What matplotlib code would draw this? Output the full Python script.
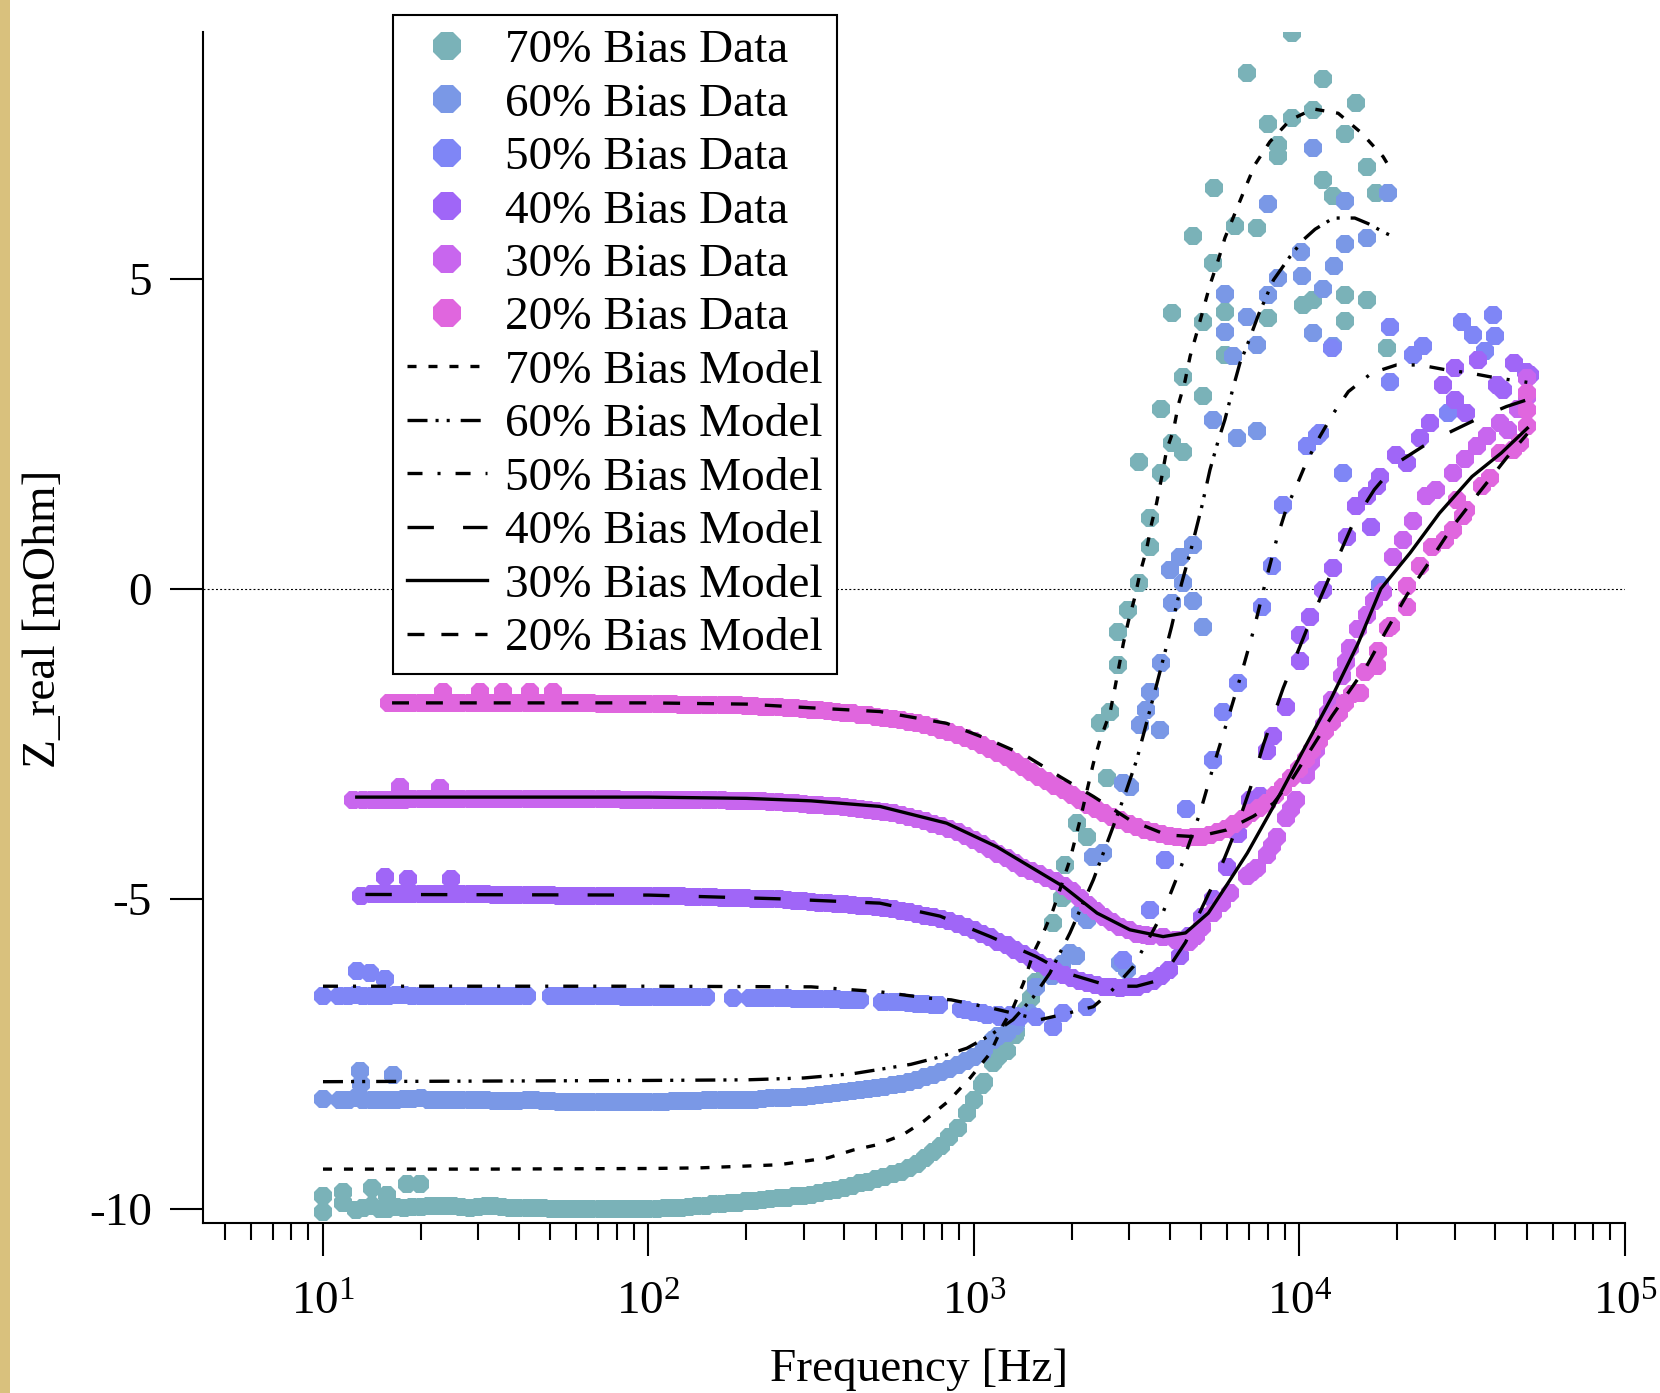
# Z_real vs frequency for six bias levels: measured data (dots) and model fits (black lines).
import matplotlib
matplotlib.use('Agg')
import matplotlib.pyplot as plt
from matplotlib.patches import Rectangle
from matplotlib.ticker import LogLocator, NullLocator, NullFormatter

# ---- measured data (frequency in Hz, Z_real in mOhm) ----
f70 = [10.0, 10.0, 11.5, 11.5, 12.6, 14.1, 14.1, 15.7, 15.7, 17.8, 18.1, 19.9, 20.0, 22.4, 25.1, 28.2, 31.6, 35.5,
       39.8, 44.7, 50.1, 56.2, 63.1, 70.8, 79.4, 89.1, 100, 112, 126, 141, 158, 178, 200, 224, 251, 282, 316, 355,
       398, 447, 501, 562, 631, 708, 794, 891, 955, 1000, 1072, 1148, 1259, 1349, 1445, 1549, 1652, 1750, 1862,
       1905, 2070, 2223, 2438, 2559, 2618, 2773, 2773, 2979, 3221, 3221, 3475, 3475, 3750, 3750, 4046, 4046, 4375,
       4375, 4699, 5058, 5058, 5433, 5470, 5902, 5902, 6339, 6887, 7379, 7980, 8017, 8610, 8610, 9462, 9462, 10280,
       11020, 11020, 11830, 11830, 12710, 13800, 13800, 13800, 14890, 16070, 16070, 17220, 18540]
z70 = [-9.80, -10.05, -9.73, -9.90, -10.02, -9.66, -9.95, -9.78, -10.00, -9.98, -9.60, -9.60, -9.97, -9.95, -9.96,
       -9.98, -9.96, -9.97, -9.99, -9.98, -10.00, -10.00, -10.01, -10.00, -10.00, -10.00, -10.00, -9.99, -9.98,
       -9.96, -9.93, -9.91, -9.88, -9.86, -9.83, -9.80, -9.78, -9.72, -9.66, -9.59, -9.52, -9.44, -9.35, -9.18,
       -8.98, -8.70, -8.45, -8.25, -7.95, -7.65, -7.45, -7.15, -6.80, -6.35, -6.15, -5.39, -4.98, -4.45, -3.77,
       -4.00, -2.16, -3.05, -1.98, -1.23, -0.69, -0.34, 0.09, 2.04, 0.68, 1.14, 1.87, 2.90, 2.35, 4.45, 2.21, 3.42,
       5.69, 3.11, 4.31, 5.26, 6.46, 3.77, 4.47, 5.85, 8.32, 5.82, 7.50, 4.37, 6.98, 7.16, 7.59, 8.96, 4.58, 4.66,
       7.73, 8.23, 6.60, 6.34, 4.32, 4.74, 7.33, 7.84, 4.66, 6.81, 6.38, 3.88]
# second set of readings along the dense band
f70b = [13.3, 15.0, 16.8, 18.8, 21.1, 23.7, 26.6, 29.9, 33.5, 37.6, 42.2, 47.3, 53.1, 59.6, 66.8, 75.0, 84.1, 94.4,
        106, 119, 133, 150, 168, 188, 211, 237, 266, 299, 335, 376, 422, 473, 531, 596, 668, 750, 841, 1059, 1189,
        1334, 1496]
z70b = [-9.98, -10.00, -9.97, -9.97, -9.96, -9.95, -9.97, -9.97, -9.96, -9.98, -9.99, -9.99, -10.00, -10.01, -10.01,
        -10.00, -10.00, -10.00, -10.00, -9.99, -9.97, -9.95, -9.92, -9.90, -9.87, -9.85, -9.82, -9.79, -9.75, -9.69,
        -9.63, -9.56, -9.48, -9.40, -9.27, -9.08, -8.85, -8.00, -7.55, -7.20, -6.60]

f60 = [10.0, 11.3, 12.6, 13.0, 13.1, 14.1, 15.8, 16.4, 17.8, 20.0, 22.4, 25.1, 28.2, 31.6, 35.5, 39.8, 44.7, 50.1,
       56.2, 63.1, 70.8, 79.4, 89.1, 100, 112, 126, 141, 158, 178, 200, 224, 251, 282, 316, 355, 398, 447, 501, 562,
       631, 708, 794, 891, 1000, 1072, 1148, 1259, 1349, 1479, 1549, 1738, 1862, 1972, 2065, 2118, 2218, 2323, 2495,
       2812, 2871, 2951, 3013, 3236, 3388, 3467, 3724, 3750, 3999, 4046, 4295, 4375, 4699, 4721, 5058, 5433, 5902,
       5902, 6266, 6412, 6887, 7379, 7379, 7980, 8017, 8610, 10140, 10190, 11020, 11020, 11830, 12710, 12790,
       13800, 13800, 16070, 18750]
z60 = [-8.23, -8.25, -8.22, -7.78, -7.99, -8.24, -8.25, -7.84, -8.23, -8.22, -8.24, -8.25, -8.24, -8.25, -8.26,
       -8.26, -8.25, -8.26, -8.27, -8.27, -8.27, -8.27, -8.27, -8.27, -8.27, -8.26, -8.26, -8.25, -8.25, -8.24,
       -8.23, -8.22, -8.20, -8.18, -8.15, -8.12, -8.08, -8.05, -8.00, -7.95, -7.88, -7.80, -7.68, -7.55, -7.42,
       -7.28, -7.16, -7.00, -6.84, -6.42, -6.25, -6.05, -5.87, -5.93, -5.23, -5.34, -4.32, -4.26, -6.03, -3.13,
       -6.15, -3.19, -2.19, -1.95, -1.66, -2.27, -1.19, 0.31, -0.23, 0.52, 0.09, -0.20, 0.71, -0.62, 2.73, 4.14,
       4.75, 3.75, 2.43, 4.38, 2.55, 3.94, 6.21, 4.74, 5.01, 5.43, 5.05, 4.12, 7.11, 4.83, 3.91, 5.21, 5.56, 6.26,
       5.66, 6.38]
f60b = [11.9, 13.3, 15.0, 16.8, 18.8, 21.1, 23.7, 26.6, 29.9, 33.5, 37.6, 42.2, 47.3, 53.1, 59.6, 66.8, 75.0, 84.1,
        94.4, 106, 119, 133, 150, 168, 188, 211, 237, 266, 299, 335, 376, 422, 473, 531, 596, 668, 750, 841, 944,
        1059, 1189, 1334]
z60b = [-8.24, -8.25, -8.24, -8.25, -8.23, -8.24, -8.25, -8.24, -8.25, -8.26, -8.26, -8.25, -8.26, -8.27, -8.27,
        -8.27, -8.27, -8.27, -8.27, -8.27, -8.26, -8.26, -8.25, -8.25, -8.24, -8.24, -8.22, -8.21, -8.19, -8.17,
        -8.14, -8.10, -8.06, -8.03, -7.98, -7.92, -7.84, -7.74, -7.62, -7.48, -7.22, -7.05]

f50 = [10.0, 11.2, 12.6, 12.7, 13.9, 14.1, 15.5, 15.8, 17.8, 20.0, 22.4, 25.1, 28.2, 31.6, 35.5, 39.8, 50.1, 56.2,
       63.1, 70.8, 79.4, 89.1, 100, 112, 126, 141, 182, 205, 224, 251, 282, 316, 355, 398, 447, 520, 562, 631, 708,
       780, 910, 1000, 1100, 1202, 1300, 1380, 1549, 1750, 1880, 2220, 2871, 3467, 3864, 4467, 5433, 5821, 6457,
       7691, 8260, 8913, 10520, 11300, 11560, 12590, 13580, 17660, 18970, 18970, 22390, 23990, 28640, 31480, 34200,
       37150, 39360, 39810]
z50 = [-6.56, -6.56, -6.55, -6.17, -6.20, -6.56, -6.29, -6.56, -6.55, -6.56, -6.56, -6.56, -6.56, -6.56, -6.56,
       -6.56, -6.56, -6.57, -6.57, -6.57, -6.57, -6.58, -6.58, -6.58, -6.58, -6.58, -6.60, -6.60, -6.60, -6.60,
       -6.61, -6.62, -6.62, -6.63, -6.64, -6.66, -6.67, -6.68, -6.70, -6.72, -6.78, -6.82, -6.87, -6.90, -6.88,
       -6.90, -6.90, -7.06, -6.85, -6.74, -5.98, -5.18, -4.37, -3.55, -2.76, -1.98, -1.52, -0.29, 0.36, 1.35, 2.30,
       2.46, 2.51, 3.89, 1.87, 0.06, 4.23, 3.34, 3.77, 3.91, 2.83, 4.31, 4.10, 3.83, 4.42, 4.07]
f50b = [11.9, 13.3, 15.0, 16.8, 18.8, 21.1, 23.7, 26.6, 29.9, 33.5, 37.6, 42.2, 53.1, 59.6, 66.8, 75.0, 84.1, 94.4,
        106, 119, 133, 150, 211, 237, 266, 299, 335, 376, 422, 531, 596, 668, 750, 944, 1059, 1189, 1334]
z50b = [-6.56, -6.56, -6.56, -6.55, -6.56, -6.56, -6.56, -6.56, -6.56, -6.56, -6.56, -6.56, -6.57, -6.57, -6.57,
        -6.57, -6.58, -6.58, -6.58, -6.58, -6.58, -6.59, -6.60, -6.60, -6.60, -6.61, -6.62, -6.62, -6.63, -6.66,
        -6.67, -6.69, -6.71, -6.80, -6.85, -6.88, -6.89]

f40 = [13.1, 14.1, 15.5, 15.8, 17.8, 18.3, 20.0, 22.4, 24.8, 25.1, 28.2, 31.6, 35.5, 39.8, 44.7, 50.1, 56.2, 63.1,
       70.8, 79.4, 89.1, 100, 112, 126, 141, 158, 178, 200, 224, 251, 282, 316, 355, 398, 447, 501, 562, 631, 708,
       794, 891, 1000, 1122, 1259, 1413, 1585, 1778, 1995, 2239, 2512, 2818, 3162, 3548, 3981, 4295, 4571, 5012,
       5433, 5970, 6457, 7047, 7551, 7943, 8318, 9120, 10050, 10050, 10770, 11830, 12710, 13960, 14960, 16070,
       16630, 17250, 17620, 19860, 21330, 23440, 25120, 27540, 30060, 30060, 32580, 35480, 40360, 42270, 45710,
       49770, 51050]
z40 = [-4.95, -4.93, -4.65, -4.93, -4.93, -4.68, -4.93, -4.93, -4.68, -4.93, -4.93, -4.93, -4.94, -4.94, -4.94,
       -4.94, -4.95, -4.95, -4.95, -4.95, -4.95, -4.96, -4.96, -4.96, -4.97, -4.97, -4.98, -4.99, -5.00, -5.01,
       -5.03, -5.05, -5.07, -5.09, -5.11, -5.13, -5.17, -5.22, -5.27, -5.32, -5.40, -5.50, -5.62, -5.75, -5.89,
       -6.03, -6.17, -6.28, -6.36, -6.42, -6.44, -6.42, -6.33, -6.15, -5.93, -5.60, -5.30, -5.00, -4.48, -3.95,
       -3.40, -3.35, -2.62, -2.38, -1.90, -1.17, -0.74, -0.45, -0.02, 0.33, 0.84, 1.33, 1.49, 1.00, 1.65, 1.81,
       2.16, 2.03, 2.43, 2.67, 3.29, 3.56, 3.05, 2.83, 3.69, 3.29, 3.21, 3.64, 3.50, 3.45]
f40b = [15.0, 16.8, 18.8, 21.1, 23.7, 26.6, 29.9, 33.5, 37.6, 42.2, 47.3, 53.1, 59.6, 66.8, 75.0, 84.1, 94.4, 106,
        119, 133, 150, 168, 188, 211, 237, 266, 299, 335, 376, 422, 473, 531, 596, 668, 750, 841, 944, 1059, 1189,
        1334, 1496, 1679, 1884, 2113, 2371, 2661, 2985, 3350, 3758]
z40b = [-4.93, -4.93, -4.93, -4.93, -4.93, -4.93, -4.93, -4.94, -4.94, -4.94, -4.94, -4.95, -4.95, -4.95, -4.95,
        -4.95, -4.96, -4.96, -4.96, -4.97, -4.97, -4.98, -4.99, -5.00, -5.01, -5.02, -5.04, -5.06, -5.08, -5.10,
        -5.12, -5.15, -5.20, -5.25, -5.30, -5.36, -5.45, -5.56, -5.69, -5.82, -5.96, -6.10, -6.23, -6.32, -6.39,
        -6.43, -6.43, -6.38, -6.25]

f30 = [12.4, 14.1, 15.8, 17.3, 17.8, 20.0, 22.4, 22.9, 25.1, 28.2, 31.6, 35.5, 39.8, 44.7, 50.1, 56.2, 63.1, 70.8,
       79.4, 89.1, 100, 112, 126, 141, 158, 178, 200, 224, 251, 282, 316, 355, 398, 447, 501, 562, 631, 708, 794,
       891, 1000, 1122, 1259, 1413, 1585, 1778, 1995, 2239, 2512, 2818, 3162, 3467, 3802, 4169, 4571, 5012, 5433,
       6115, 6887, 7413, 7943, 8511, 9120, 9772, 10470, 11220, 11890, 12590, 13490, 14290, 15140, 16070, 16980,
       18110, 19410, 20840, 22390, 24550, 26300, 29720, 32360, 35000, 37580, 41300, 43650, 46770, 50120, 50120]
z30 = [-3.40, -3.40, -3.40, -3.19, -3.40, -3.39, -3.39, -3.22, -3.39, -3.39, -3.39, -3.39, -3.39, -3.39, -3.39,
       -3.39, -3.39, -3.39, -3.39, -3.40, -3.40, -3.40, -3.40, -3.41, -3.41, -3.42, -3.42, -3.43, -3.44, -3.46,
       -3.48, -3.50, -3.52, -3.55, -3.58, -3.62, -3.68, -3.75, -3.83, -3.93, -4.05, -4.20, -4.35, -4.50, -4.60,
       -4.72, -4.88, -5.10, -5.30, -5.45, -5.56, -5.60, -5.62, -5.66, -5.70, -5.45, -5.23, -4.91, -4.64, -4.50,
       -4.30, -4.00, -3.70, -3.40, -3.00, -2.60, -2.20, -1.80, -1.40, -0.95, -0.65, -0.42, -0.20, -0.05, 0.52, 0.79,
       1.10, 1.49, 1.60, 1.87, 2.10, 2.30, 2.46, 2.67, 2.56, 2.90, 3.10, 3.40]
f30b = [13.3, 15.0, 16.8, 18.8, 21.1, 23.7, 26.6, 29.9, 33.5, 37.6, 42.2, 47.3, 53.1, 59.6, 66.8, 75.0, 84.1, 94.4,
        106, 119, 133, 150, 168, 188, 211, 237, 266, 299, 335, 376, 422, 473, 531, 596, 668, 750, 841, 944, 1059,
        1189, 1334, 1496, 1679, 1884, 2113, 2371, 2661, 2985, 3350, 4797, 5768, 7150, 8222, 9441, 10840, 12230,
        13880]
z30b = [-3.40, -3.40, -3.40, -3.39, -3.39, -3.39, -3.39, -3.39, -3.39, -3.39, -3.39, -3.39, -3.39, -3.39, -3.39,
        -3.39, -3.40, -3.40, -3.40, -3.40, -3.40, -3.41, -3.41, -3.42, -3.43, -3.44, -3.45, -3.47, -3.49, -3.51,
        -3.54, -3.57, -3.60, -3.65, -3.71, -3.79, -3.88, -3.99, -4.12, -4.28, -4.42, -4.55, -4.66, -4.80, -4.99,
        -5.20, -5.38, -5.51, -5.58, -5.60, -5.07, -4.57, -4.15, -3.55, -2.80, -2.00, -1.18]

f20 = [15.9, 17.8, 20.0, 22.4, 23.4, 25.1, 28.2, 30.3, 31.6, 35.5, 35.8, 39.8, 43.3, 44.7, 50.1, 51.0, 56.2, 63.1,
       70.8, 79.4, 89.1, 100, 112, 126, 141, 158, 178, 200, 224, 251, 282, 316, 355, 398, 447, 501, 562, 631, 708,
       794, 891, 1000, 1122, 1259, 1413, 1585, 1778, 1995, 2239, 2512, 2818, 3162, 3548, 3981, 4467, 5012, 5623,
       6310, 7079, 7943, 8913, 10000, 10960, 12020, 13180, 14450, 15310, 15850, 17260, 17380, 18750, 19050, 21380,
       21380, 23440, 25470, 27990, 29720, 30410, 31840, 32580, 36310, 38460, 41300, 45390, 47530, 49890, 49890,
       49890]
z20 = [-1.85, -1.85, -1.85, -1.85, -1.67, -1.85, -1.85, -1.67, -1.85, -1.85, -1.67, -1.85, -1.67, -1.85, -1.85,
       -1.67, -1.85, -1.85, -1.86, -1.86, -1.86, -1.86, -1.86, -1.87, -1.87, -1.88, -1.88, -1.89, -1.90, -1.91,
       -1.93, -1.95, -1.97, -2.00, -2.03, -2.06, -2.10, -2.15, -2.20, -2.27, -2.36, -2.46, -2.58, -2.72, -2.87,
       -3.03, -3.18, -3.33, -3.48, -3.62, -3.73, -3.85, -3.93, -3.98, -4.02, -4.00, -3.93, -3.80, -3.62, -3.45,
       -3.20, -2.90, -2.60, -2.30, -2.00, -1.70, -1.68, -1.35, -1.25, -1.00, -0.63, -0.60, -0.29, 0.04, 0.36, 0.68,
       0.79, 0.95, 1.44, 1.17, 1.27, 1.65, 1.79, 2.19, 2.24, 2.35, 2.62, 2.89, 3.16]
f20b = [16.8, 18.8, 21.1, 23.7, 26.6, 29.9, 33.5, 37.6, 42.2, 47.3, 53.1, 59.6, 66.8, 75.0, 84.1, 94.4, 106, 119,
        133, 150, 168, 188, 211, 237, 266, 299, 335, 376, 422, 473, 531, 596, 668, 750, 841, 944, 1059, 1189, 1334,
        1496, 1679, 1884, 2113, 2371, 2661, 2985, 3350, 3758, 4217, 4732, 5309, 5957, 6683, 7499, 8414, 9441, 10470,
        11480, 12590, 13800]
z20b = [-1.85, -1.85, -1.85, -1.85, -1.85, -1.85, -1.85, -1.85, -1.85, -1.85, -1.85, -1.85, -1.85, -1.86, -1.86,
        -1.86, -1.86, -1.86, -1.87, -1.87, -1.88, -1.88, -1.89, -1.90, -1.92, -1.94, -1.96, -1.98, -2.01, -2.04,
        -2.08, -2.12, -2.17, -2.23, -2.31, -2.41, -2.52, -2.65, -2.80, -2.95, -3.10, -3.25, -3.40, -3.55, -3.68,
        -3.79, -3.89, -3.96, -4.00, -4.01, -3.97, -3.87, -3.71, -3.54, -3.33, -3.05, -2.75, -2.45, -2.15, -1.85]

# ---- model curves ----
fm70 = [10, 31.6, 100, 144, 251, 355, 427, 501, 603, 700, 832, 973, 1122, 1230, 1318, 1419, 1521, 1633, 1750, 1972,
        2118, 2328, 2438, 2618, 2710, 2877, 2979, 3126, 3236, 3388, 3516, 3639, 3776, 3908, 4102, 4246, 4446, 4613,
        4831, 5058, 5309, 5636, 5902, 6339, 6808, 7295, 8110, 9354, 11020, 13150, 15520, 18070, 19000]
zm70 = [-9.36, -9.36, -9.35, -9.34, -9.29, -9.18, -9.05, -8.97, -8.81, -8.59, -8.27, -7.89, -7.49, -7.03, -6.76,
        -6.36, -5.88, -5.55, -5.18, -4.37, -3.73, -2.81, -2.44, -2.00, -1.60, -0.88, -0.53, -0.12, 0.25, 0.63, 1.06,
        1.38, 1.81, 2.24, 2.56, 2.97, 3.34, 3.75, 4.12, 4.50, 4.90, 5.31, 5.66, 6.06, 6.46, 6.84, 7.21, 7.56, 7.74,
        7.67, 7.35, 6.97, 6.78]

fm60 = [10, 100, 200, 300, 426, 640, 787, 951, 1122, 1318, 1514, 1710, 1972, 2328, 2679, 2944, 3162, 3639, 4046,
        4345, 4667, 5012, 5309, 5636, 5902, 6266, 6561, 6887, 7482, 8318, 9354, 10280, 11170, 12710, 14790, 16250,
        18320, 19050]
zm60 = [-7.95, -7.93, -7.92, -7.89, -7.82, -7.67, -7.55, -7.41, -7.20, -6.95, -6.60, -6.20, -5.55, -4.69, -3.83,
        -3.24, -2.76, -1.55, -0.61, 0.09, 0.68, 1.33, 1.92, 2.40, 2.73, 3.26, 3.64, 3.91, 4.42, 4.98, 5.36, 5.63,
        5.80, 5.98, 5.98, 5.89, 5.74, 5.70]

fm50 = [10, 100, 316, 514, 716, 851, 1148, 1596, 1928, 2328, 2630, 3090, 3802, 4295, 4943, 5433, 5970, 6607, 7244,
        7943, 8511, 9120, 9772, 10520, 11560, 12710, 14130, 16670, 19860, 23440, 28310, 33420, 38460, 45710, 50120]
zm50 = [-6.41, -6.41, -6.42, -6.50, -6.60, -6.63, -6.77, -6.95, -6.85, -6.74, -6.50, -6.09, -5.23, -4.53, -3.62,
        -2.87, -2.17, -1.40, -0.65, 0.20, 0.80, 1.30, 1.65, 2.05, 2.46, 2.83, 3.18, 3.48, 3.61, 3.61, 3.53, 3.48,
        3.42, 3.36, 3.33]

fm40 = [13.5, 100, 251, 514, 787, 1122, 1549, 1928, 2618, 3162, 3724, 3981, 4467, 5012, 5623, 6310, 7079, 7762,
        8913, 10520, 12270, 14620, 16980, 19950, 23990, 29310, 35480, 43250, 50120]
zm40 = [-4.93, -4.94, -5.00, -5.07, -5.28, -5.61, -5.93, -6.20, -6.41, -6.41, -6.31, -6.10, -5.70, -5.15, -4.60,
        -3.95, -3.20, -2.50, -1.60, -0.66, 0.15, 1.06, 1.60, 2.03, 2.30, 2.54, 2.75, 2.94, 3.05]

fm30 = [12.7, 100, 200, 316, 514, 824, 1175, 1486, 1879, 2388, 3013, 3811, 4467, 5248, 6026, 6918, 8318, 10000,
        12590, 15140, 17780, 21880, 26920, 33880, 41690, 50120]
zm30 = [-3.36, -3.36, -3.38, -3.42, -3.51, -3.78, -4.16, -4.48, -4.80, -5.23, -5.50, -5.61, -5.55, -5.23, -4.75,
        -4.26, -3.51, -2.72, -1.74, -0.88, 0.00, 0.58, 1.22, 1.81, 2.19, 2.59]

fm20 = [16.3, 100, 200, 316, 514, 824, 1122, 1452, 1837, 2328, 3013, 3908, 4831, 5970, 7211, 8318, 9550, 10960,
        12590, 14450, 16070, 18320, 21380, 24890, 29310, 35480, 43250, 50120]
zm20 = [-1.84, -1.84, -1.86, -1.92, -1.98, -2.17, -2.44, -2.70, -3.03, -3.35, -3.73, -3.97, -4.00, -3.89, -3.67,
        -3.46, -3.05, -2.55, -2.05, -1.60, -1.25, -0.71, -0.10, 0.41, 0.98, 1.54, 2.11, 2.50]

data_series = [
    ('70% Bias Data', f70 + f70b, z70 + z70b, '#7ab2b8'),
    ('60% Bias Data', f60 + f60b, z60 + z60b, '#7a98e6'),
    ('50% Bias Data', f50 + f50b, z50 + z50b, '#7f86f6'),
    ('40% Bias Data', f40 + f40b, z40 + z40b, '#a066f7'),
    ('30% Bias Data', f30 + f30b, z30 + z30b, '#c866ee'),
    ('20% Bias Data', f20 + f20b, z20 + z20b, '#e066de'),
]
model_series = [
    ('70% Bias Model', fm70, zm70, (0, (6.5, 8.6))),
    ('60% Bias Model', fm60, zm60, (0, (14.4, 5.8, 2.2, 5.8, 2.2, 7.9))),
    ('50% Bias Model', fm50, zm50, (0, (10.8, 10.8, 2.2, 10.8))),
    ('40% Bias Model', fm40, zm40, (0, (19, 21))),
    ('30% Bias Model', fm30, zm30, '-'),
    ('20% Bias Model', fm20, zm20, (0, (12.2, 12.2))),
]

plt.rcParams['font.family'] = 'serif'
plt.rcParams['font.serif'] = ['Liberation Serif', 'DejaVu Serif']
plt.rcParams['mathtext.fontset'] = 'custom'
plt.rcParams['mathtext.rm'] = 'Liberation Serif'
plt.rcParams['axes.unicode_minus'] = False
plt.rcParams['lines.scale_dashes'] = False

fig = plt.figure(figsize=(16.6, 13.93), dpi=100)
ax = fig.add_axes([0.1223, 0.1220, 0.8566, 0.8550])

# golden strip at the left edge of the picture
fig.add_artist(Rectangle((0, 0), 10 / 1660, 1, transform=fig.transFigure,
                         facecolor='#d9c17d', edgecolor='none', zorder=0))

ax.axhline(0, color='black', lw=0.8, linestyle=(0, (1.4, 1.6)), zorder=1)

for label, f, z, c in data_series:
    ax.plot(f, z, linestyle='none', marker='8', markersize=14.5, markeredgewidth=0,
            color=c, label=label, zorder=2)

for label, f, z, ls in model_series:
    ax.plot(f, z, color='black', lw=2.4, linestyle=ls, label=label, zorder=3)

ax.set_xscale('log')
ax.set_xlim(4.28, 1e5)
ax.set_ylim(-10.23, 8.98)
ax.set_yticks([5, 0, -5, -10])
ax.yaxis.set_minor_locator(NullLocator())
ax.xaxis.set_major_locator(LogLocator(base=10))
ax.xaxis.set_minor_locator(LogLocator(base=10, subs=range(2, 10)))
ax.xaxis.set_minor_formatter(NullFormatter())

for side in ['top', 'right']:
    ax.spines[side].set_visible(False)
for side in ['left', 'bottom']:
    ax.spines[side].set_linewidth(1.5)

ax.tick_params(which='major', direction='out', length=23.8, width=1.5, labelsize=34)
ax.tick_params(axis='x', which='major', pad=19)
ax.tick_params(axis='y', which='major', pad=13)
ax.tick_params(axis='x', which='minor', direction='out', length=12, width=1.5)

ax.set_xlabel('Frequency [Hz]', fontsize=34)
ax.xaxis.set_label_coords(0.5035, -0.105)
ax.set_ylabel('Z_real [mOhm]', fontsize=34)
ax.yaxis.set_label_coords(-0.097, 0.507)

leg = ax.legend(loc='upper left', bbox_to_anchor=(0.1336, 1.0143), borderaxespad=0,
                fontsize=34, markerscale=1.55, handlelength=1.7, handletextpad=0.38,
                borderpad=0.3, labelspacing=0.22, fancybox=False, framealpha=1,
                edgecolor='black')
leg.get_frame().set_linewidth(1.5)

fig.savefig('out.png', dpi=100)
